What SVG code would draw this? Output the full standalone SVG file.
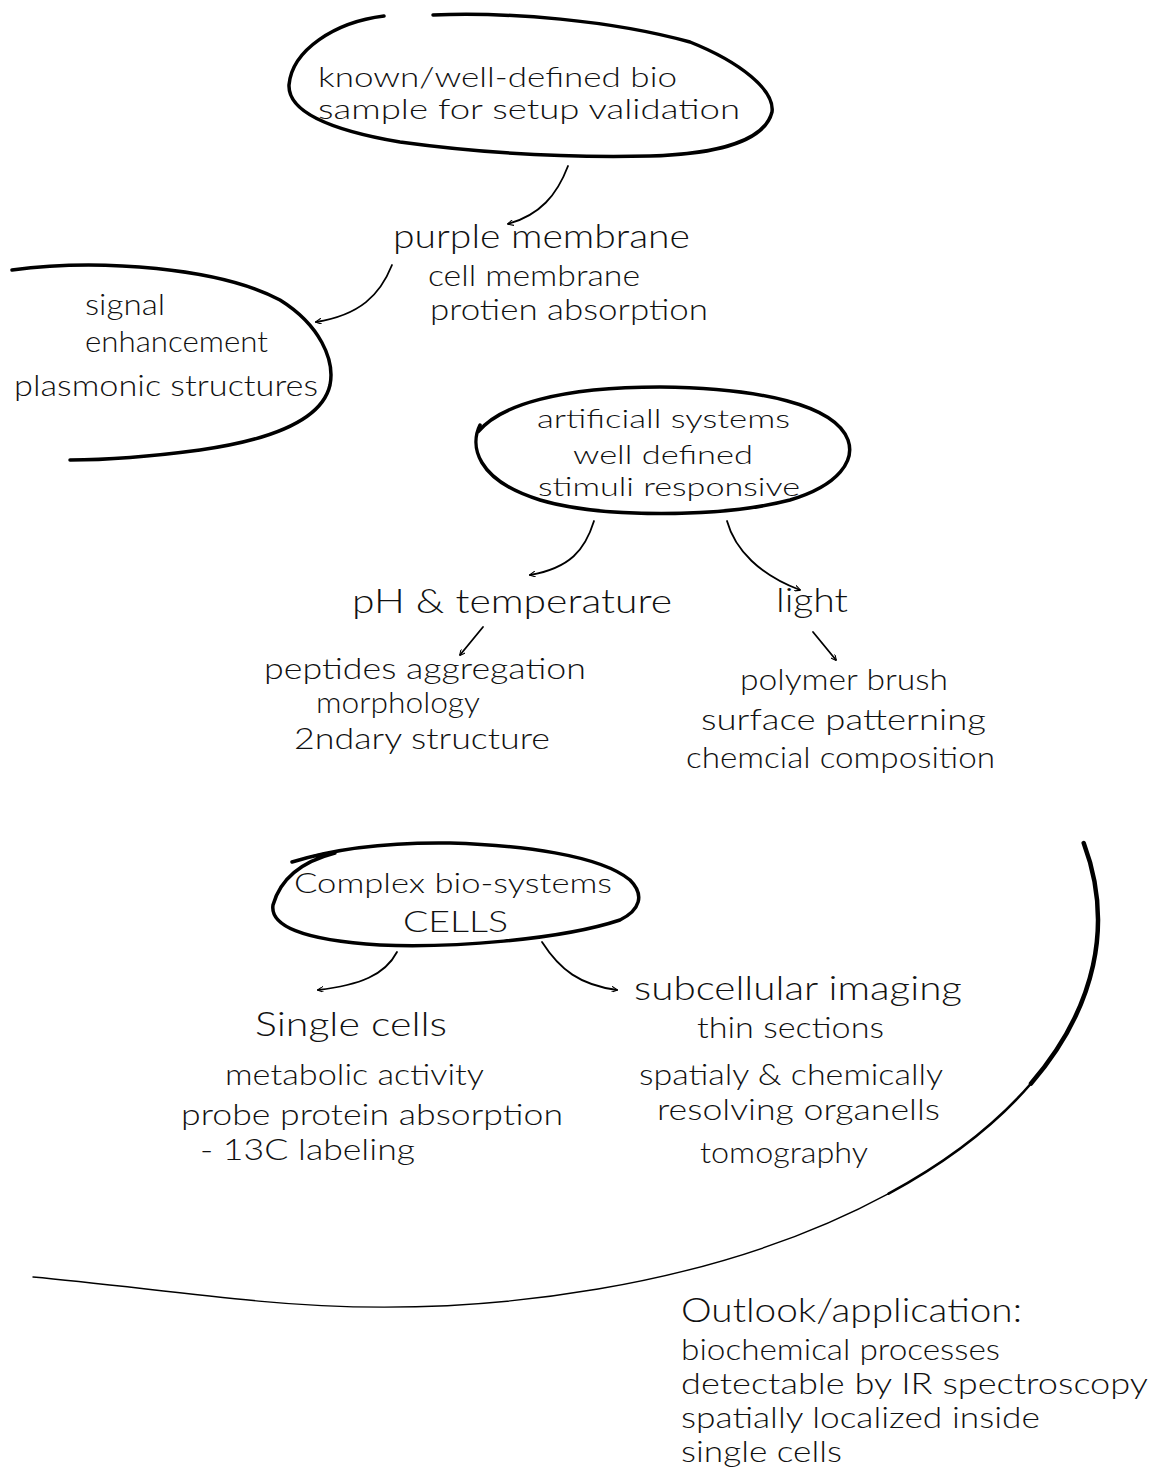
<svg xmlns="http://www.w3.org/2000/svg" width="1161" height="1470" viewBox="0 0 1161 1470">
<defs>
<style>
text{font-family:Lato,"Open Sans","Liberation Sans",sans-serif;font-weight:300;fill:#111;}
.t30{font-size:30px;}
.t27{font-size:27px;}
.t25{font-size:25px;}
.t28{font-size:28px;}
.t33{font-size:33px;}
.loop{fill:none;stroke:#000;stroke-width:3.5;stroke-linecap:round;stroke-linejoin:round;}
.thin{fill:none;stroke:#000;stroke-width:1.6;stroke-linecap:round;}
.arr{fill:none;stroke:#000;stroke-width:1.8;stroke-linecap:round;marker-end:url(#ah);}
.arc{fill:none;stroke:#000;stroke-linecap:round;}
</style>
<marker id="ah" viewBox="0 0 10 10" refX="9" refY="5" markerWidth="6" markerHeight="6" orient="auto" markerUnits="userSpaceOnUse">
<path d="M0,0 L10,5 L0,10" fill="none" stroke="#000" stroke-width="1.8"/>
</marker>
</defs>
<rect width="1161" height="1470" fill="#fff"/>

<g id="node-validation">
<path class="loop" d="M384,16 C335,22 292,50 289,85 C288,112 330,130 400,142 C480,153 560,158 650,156 C720,154 765,140 772,112 C775,90 740,62 690,42 C610,20 510,12 433,15"/>
<text class="t27" x="318" y="87" textLength="359" lengthAdjust="spacingAndGlyphs">known/well-defined bio</text>
<text class="t27" x="318" y="119" textLength="422" lengthAdjust="spacingAndGlyphs">sample for setup validation</text>
</g>

<g id="node-purple">
<text class="t33" x="393" y="248" textLength="297" lengthAdjust="spacingAndGlyphs">purple membrane</text>
<text class="t30" x="428" y="286" textLength="212" lengthAdjust="spacingAndGlyphs">cell membrane</text>
<text class="t30" x="430" y="320" textLength="278" lengthAdjust="spacingAndGlyphs">protien absorption</text>
</g>

<g id="node-signal">
<path class="loop" d="M12,270 C100,258 220,268 280,300 C320,325 335,360 330,385 C322,420 270,440 200,450 C140,458 100,460 70,460"/>
<text class="t30" x="85" y="315" textLength="80" lengthAdjust="spacingAndGlyphs">signal</text>
<text class="t30" x="85" y="352" textLength="183" lengthAdjust="spacingAndGlyphs">enhancement</text>
<text class="t30" x="14" y="396" textLength="304" lengthAdjust="spacingAndGlyphs">plasmonic structures</text>
</g>

<g id="node-artificial">
<path class="loop" d="M480,425 C470,445 475,480 540,500 C600,518 720,518 790,500 C840,485 855,460 848,440 C835,405 760,388 660,387 C560,387 500,405 478,432"/>
<text class="t25" x="537" y="428" textLength="253" lengthAdjust="spacingAndGlyphs">artificiall systems</text>
<text class="t25" x="573" y="464" textLength="180" lengthAdjust="spacingAndGlyphs">well defined</text>
<text class="t25" x="538" y="496" textLength="262" lengthAdjust="spacingAndGlyphs">stimuli responsive</text>
</g>

<g id="node-ph">
<text class="t33" x="352" y="613" textLength="320" lengthAdjust="spacingAndGlyphs">pH &amp; temperature</text>
</g>
<g id="node-light">
<text class="t33" x="776" y="612" textLength="72" lengthAdjust="spacingAndGlyphs">light</text>
</g>

<g id="node-peptides">
<text class="t30" x="264" y="679" textLength="322" lengthAdjust="spacingAndGlyphs">peptides aggregation</text>
<text class="t30" x="316" y="713" textLength="164" lengthAdjust="spacingAndGlyphs">morphology</text>
<text class="t30" x="294" y="749" textLength="256" lengthAdjust="spacingAndGlyphs">2ndary structure</text>
</g>

<g id="node-polymer">
<text class="t30" x="740" y="690" textLength="208" lengthAdjust="spacingAndGlyphs">polymer brush</text>
<text class="t30" x="701" y="730" textLength="285" lengthAdjust="spacingAndGlyphs">surface patterning</text>
<text class="t30" x="686" y="768" textLength="309" lengthAdjust="spacingAndGlyphs">chemcial composition</text>
</g>

<g id="node-complex">
<path class="loop" d="M335,853 C300,862 280,880 273,905 C270,925 300,940 380,945 C450,948 560,940 620,920 C640,910 645,895 630,880 C600,855 520,845 450,843 C380,842 330,850 292,862"/>
<path class="thin" d="M300,860 C310,856 322,853 335,852"/>
<text class="t28" x="294" y="893" textLength="318" lengthAdjust="spacingAndGlyphs">Complex bio-systems</text>
<text class="t30" x="403" y="932" textLength="105" lengthAdjust="spacingAndGlyphs">CELLS</text>
</g>

<g id="node-single">
<text class="t33" x="255" y="1036" textLength="192" lengthAdjust="spacingAndGlyphs">Single cells</text>
<text class="t30" x="225" y="1085" textLength="259" lengthAdjust="spacingAndGlyphs">metabolic activity</text>
<text class="t30" x="181" y="1125" textLength="382" lengthAdjust="spacingAndGlyphs">probe protein absorption</text>
<text class="t30" x="200" y="1160" textLength="215" lengthAdjust="spacingAndGlyphs">- 13C labeling</text>
</g>

<g id="node-subcellular">
<text class="t33" x="634" y="1000" textLength="328" lengthAdjust="spacingAndGlyphs">subcellular imaging</text>
<text class="t30" x="697" y="1038" textLength="187" lengthAdjust="spacingAndGlyphs">thin sections</text>
<text class="t30" x="639" y="1085" textLength="304" lengthAdjust="spacingAndGlyphs">spatialy &amp; chemically</text>
<text class="t30" x="657" y="1120" textLength="283" lengthAdjust="spacingAndGlyphs">resolving organells</text>
<text class="t30" x="700" y="1163" textLength="168" lengthAdjust="spacingAndGlyphs">tomography</text>
</g>

<g id="outlook-arc">
<path class="arc" stroke-width="4.5" d="M1083.7,843 A715,387 0 0 1 1031,1083.5"/>
<path class="arc" stroke-width="2.6" d="M1031,1083.5 A715,387 0 0 1 888.6,1193.6"/>
<path class="arc" stroke-width="1.4" d="M888.6,1193.6 A715,387 0 0 1 258.8,1301.1 C179,1293.4 100,1283 33,1277"/>
</g>

<g id="node-outlook">
<text x="681" y="1322" font-size="34" textLength="341" lengthAdjust="spacingAndGlyphs">Outlook/application:</text>
<text class="t30" x="681" y="1360" textLength="319" lengthAdjust="spacingAndGlyphs">biochemical processes</text>
<text class="t30" x="681" y="1394" textLength="467" lengthAdjust="spacingAndGlyphs">detectable by IR spectroscopy</text>
<text class="t30" x="681" y="1428" textLength="359" lengthAdjust="spacingAndGlyphs">spatially localized inside</text>
<text class="t30" x="681" y="1462" textLength="161" lengthAdjust="spacingAndGlyphs">single cells</text>
</g>

<g id="connectors">
<path class="arr" d="M568,166 C557,195 540,215 508,224"/>
<path class="arr" d="M392,265 C380,295 360,315 316,322"/>
<path class="arr" d="M594,521 C585,550 570,568 530,575"/>
<path class="arr" d="M727,521 C735,550 760,575 800,590"/>
<path class="arr" d="M483,627 L460,655"/>
<path class="arr" d="M813,632 L836,660"/>
<path class="arr" d="M397,952 C385,975 360,985 318,990"/>
<path class="arr" d="M542,942 C560,970 580,985 617,990"/>
</g>
</svg>
